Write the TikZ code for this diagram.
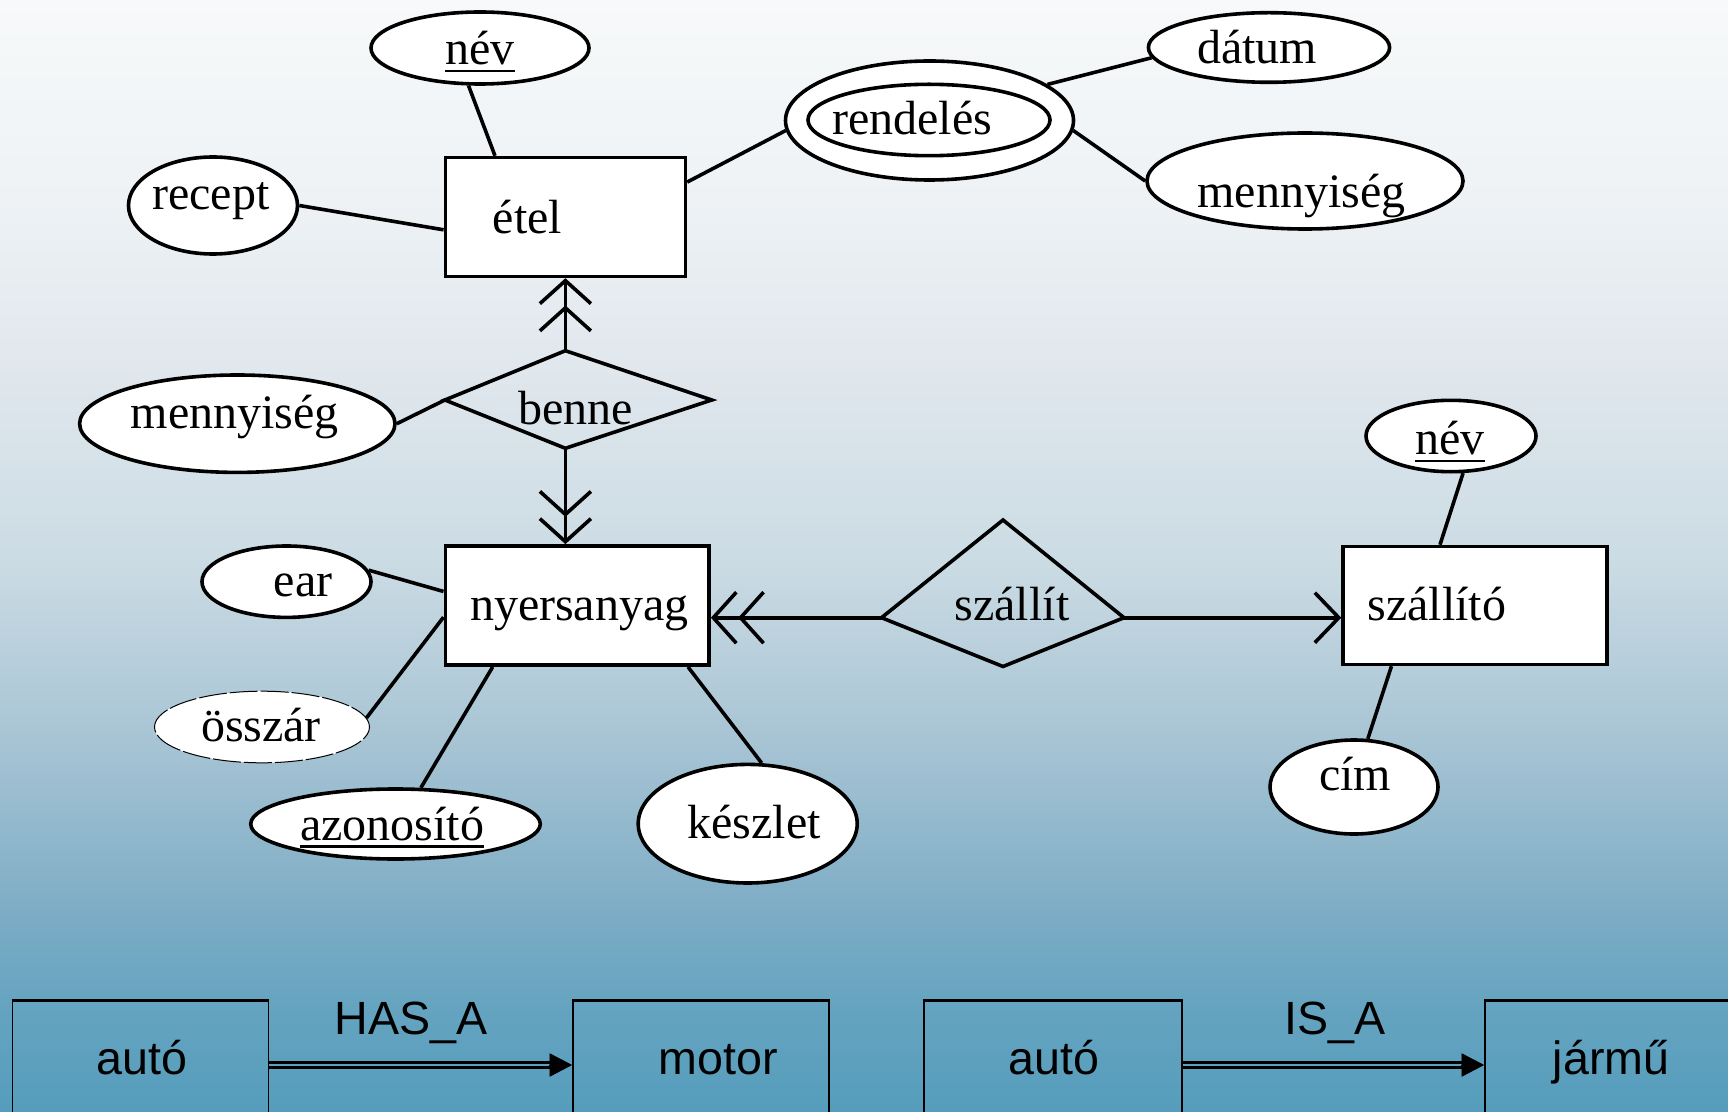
\documentclass[tikz,border=0pt]{standalone}
\usepackage{fontspec}
\setmainfont{Liberation Serif}
\newfontfamily\sansfam{Liberation Sans}
\usetikzlibrary{shapes.geometric,arrows.meta}

% background colours, top to bottom
\definecolor{g0}{HTML}{F7F9FA}
\definecolor{g1}{HTML}{EEF2F5}
\definecolor{g2}{HTML}{E0E7ED}
\definecolor{g3}{HTML}{CCDCE4}
\definecolor{g4}{HTML}{A7C4D4}
\definecolor{g5}{HTML}{80AEC6}
\definecolor{g6}{HTML}{66A4C0}
\definecolor{g7}{HTML}{559DBC}
\definecolor{gapc}{HTML}{5DA0BE}

\pgfdeclareverticalshading{bgfade}{100bp}{color(0bp)=(g7); color(25bp)=(g7);
  color(30bp)=(g6); color(34.5bp)=(g5); color(41.7bp)=(g4); color(50bp)=(g3);
  color(58.4bp)=(g2); color(66bp)=(g1); color(75bp)=(g0); color(100bp)=(g0)}

\newcommand\serifsz{\fontsize{24pt}{28pt}\selectfont}
\newcommand\sanssz{\sansfam\fontsize{23.3pt}{28pt}\selectfont}
\newcommand\ulx[1]{\vtop{\hbox{#1}\kern2.3pt\hrule height 1.3pt}}

\begin{document}
\begin{tikzpicture}[x=0.5pt,y=-0.5pt,
  ln/.style={line width=1.8pt},
  attr/.style={ellipse, draw, fill=white, line width=1.8pt, inner sep=0pt},
  dattr/.style={ellipse, draw, fill=white, line width=0.5pt,
    dash pattern=on 14pt off 1.5pt, inner sep=0pt},
  ent/.style={rectangle, draw, fill=white, line width=1.8pt, inner sep=0pt},
  lbl/.style={anchor=base, inner sep=0pt, font=\serifsz, yshift=-1.5pt},
  slbl/.style={anchor=base, inner sep=0pt, font=\sanssz},
  bbox/.style={rectangle, draw, line width=0.85pt, inner sep=0pt,
    minimum height=64pt},
  crowtwo/.style={-{Straight Barb[length=11.5pt,width=25.5pt,sep=0pt,sharp]
    Straight Barb[length=11.5pt,width=25.5pt,sep=0pt,sharp]}},
  crowone/.style={-{Straight Barb[length=12pt,width=25pt,sharp]}},
  dbl/.style={line width=1.25pt, double=gapc, double distance=1.1pt},
  tri/.style={-{Triangle[length=11.3pt,width=11.7pt]}, line width=0.4pt}]

\useasboundingbox (0,0) rectangle (1728,1112);
\clip (0,0) rectangle (1728,1112);
\shade[shading=bgfade] (0,0) rectangle (1728,1112);

% ---------- entities ----------
\node[ent, minimum width=120pt, minimum height=59.4pt] (etel) at (565.4,217) {};
\node[lbl] (etel-t) at (527.5,230.5) {étel};
\node[ent, minimum width=131.9pt, minimum height=59.6pt] (nyers) at (577.2,605.5) {};
\node[lbl] (nyers-t) at (579.3,617.3) {nyersanyag};
\node[ent, minimum width=131.9pt, minimum height=58.9pt] (szallito) at (1475,605.5) {};
\node[lbl] (szallito-t) at (1436.7,617) {szállító};

% ---------- attributes ----------
\node[attr, minimum width=109pt, minimum height=36pt] (nev1) at (480,48) {};
\node[lbl] (nev1-t) at (480,61.5) {\ulx{név}};
\node[attr, minimum width=84.5pt, minimum height=48.5pt] (recept) at (213,205.5) {};
\node[lbl] (recept-t) at (211,207) {recept};
\node[attr, minimum width=144pt, minimum height=59.5pt] (rendeles) at (929.5,120.5) {};
\node[attr, minimum width=121pt, minimum height=35.7pt] (rendeles-in) at (929,120) {};
\node[lbl] (rendeles-t) at (912,131.7) {rendelés};
\node[attr, minimum width=120.6pt, minimum height=34.8pt] (datum) at (1269,47.5) {};
\node[lbl] (datum-t) at (1257,60.7) {dátum};
\node[attr, minimum width=158pt, minimum height=48pt] (menny2) at (1305,181) {};
\node[lbl] (menny2-t) at (1301.5,205) {mennyiség};
\node[attr, minimum width=157.7pt, minimum height=48.7pt] (menny1) at (237.3,423.7) {};
\node[lbl] (menny1-t) at (234.8,425) {mennyiség};
\node[attr, minimum width=84.5pt, minimum height=35.7pt] (ear) at (286.5,581.7) {};
\node[lbl] (ear-t) at (303,593.3) {ear};
\node[dattr, minimum width=107.5pt, minimum height=35.8pt] (osszar) at (262,727) {};
\node[lbl] (osszar-t) at (261,738.3) {összár};
\node[attr, minimum width=144.8pt, minimum height=35pt] (azon) at (395.5,824) {};
\node[lbl] (azon-t) at (392,837) {\ulx{azonosító}};
\node[attr, minimum width=109.5pt, minimum height=59.3pt] (keszlet) at (747.7,823.7) {};
\node[lbl] (keszlet-t) at (754,835) {készlet};
\node[attr, minimum width=85pt, minimum height=35.7pt] (nev2) at (1451,436) {};
\node[lbl] (nev2-t) at (1450,451.7) {\ulx{név}};
\node[attr, minimum width=84pt, minimum height=47pt] (cim) at (1354,787) {};
\node[lbl] (cim-t) at (1355,787) {cím};

% ---------- relationships ----------
\coordinate (benne-n) at (565.4,350.7);
\coordinate (benne-e) at (711.8,400);
\coordinate (benne-s) at (565.4,448.3);
\coordinate (benne-w) at (444.9,400);
\draw[ln, line join=miter] (benne-n) -- (benne-e) -- (benne-s) -- (benne-w) -- cycle;
\node[lbl] (benne-t) at (575.5,421) {benne};

\coordinate (szallit-n) at (1003,520);
\coordinate (szallit-e) at (1124,617.7);
\coordinate (szallit-s) at (1003,666.5);
\coordinate (szallit-w) at (881.5,617.7);
\draw[ln, line join=miter] (szallit-n) -- (szallit-e) -- (szallit-s) -- (szallit-w) -- cycle;
\node[lbl] (szallit-t) at (1012,617.3) {szállít};

% ---------- connectors ----------
\draw[ln] (etel.139.6) -- (nev1.253.4);
\draw[ln] (recept.-0.3) -- (etel.186.1);
\draw[ln] (etel.16.2) -- (rendeles.184.9);
\draw[ln] (rendeles.17) -- (datum.185.9);
\draw[ln] (rendeles.-4.45) -- (menny2.180.3);
\draw[ln, crowtwo] (benne-n) -- (etel.south);
\draw[ln] (menny1.east) -- (benne-w);
\draw[ln, crowtwo] (benne-s) -- (benne-s |- nyers.north);
\draw[ln] (ear.8.25) -- (nyers.174.8);
\draw[ln] (osszar.5.7) -- (nyers.185.9);
\draw[ln] (azon.55.4) -- (nyers.216.6);
\draw[ln] (nyers.-29.1) -- (keszlet.77.8);
\draw[ln, crowtwo] (szallit-w) -- (szallit-w -| nyers.east);
\draw[ln, crowone] (szallit-e) -- (szallit-e -| szallito.west);
\draw[ln] (nev2.-72.9) -- (szallito.120.8);
\draw[ln] (szallito.216.2) -- (cim.74.9);

% ---------- HAS_A / IS_A strip ----------
\node[bbox, minimum width=128pt] (auto1) at (140.5,1065) {};
\node[bbox, minimum width=128pt] (motor) at (701,1065) {};
\node[bbox, minimum width=129pt] (auto2) at (1053,1065) {};
\node[bbox, minimum width=128pt] (jarmu) at (1613,1065) {};
\foreach \b in {auto1,motor,auto2,jarmu}
  \draw[line width=1.4pt] (\b.north west) -- (\b.north east);
\node[slbl] (auto1-t) at (142,1074) {autó};
\node[slbl] (motor-t) at (718,1074) {motor};
\node[slbl] (auto2-t) at (1054,1074) {autó};
\node[slbl] (jarmu-t) at (1611,1074) {jármű};
\node[slbl] (hasa) at (411,1034) {HAS\_A};
\node[slbl] (isa) at (1335,1034) {IS\_A};

\draw[dbl] (auto1.east) -- ([xshift=-10pt]motor.west);
\draw[tri] ([xshift=-11.5pt]motor.west) -- (motor.west);
\draw[dbl] (auto2.east) -- ([xshift=-10pt]jarmu.west);
\draw[tri] ([xshift=-11.5pt]jarmu.west) -- (jarmu.west);
\end{tikzpicture}
\end{document}
